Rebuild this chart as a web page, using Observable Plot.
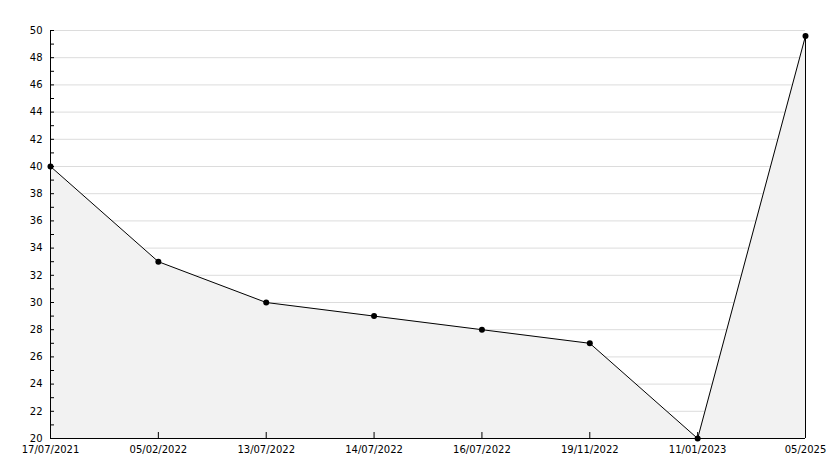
<!DOCTYPE html>
<html>
<head>
<meta charset="utf-8">
<script src="https://cdn.jsdelivr.net/npm/d3@7"></script>
<script src="https://cdn.jsdelivr.net/npm/@observablehq/plot@0.6"></script>
<style>
  html, body { margin: 0; padding: 0; background: #fff; }
  svg { display: block; }
</style>
</head>
<body>
<div id="chart"></div>
<script>
const dates = ["17/07/2021", "05/02/2022", "13/07/2022", "14/07/2022", "16/07/2022", "19/11/2022", "11/01/2023", "05/2025"];
const values = [40, 33, 30, 29, 28, 27, 20, 49.6];
const yMin = 20, yMax = 50;
const minorTicks = d3.range(yMin, yMax + 1, 1);
const gridTicks = d3.range(yMin + 2, yMax + 1, 2);

const data = dates.map((d, i) => ({date: d, value: values[i]}));
const last = data[data.length - 1];

const chart = Plot.plot({
  width: 834,
  height: 468,
  marginLeft: 50,
  marginRight: 29,
  marginTop: 30,
  marginBottom: 30,
  style: {fontFamily: "DejaVu Sans", fontSize: "10px", color: "#000", background: "#fff"},
  x: {type: "point", domain: dates, padding: 0, round: false, label: null},
  y: {domain: [yMin, yMax], label: null},
  marks: [
    Plot.gridY(gridTicks, {stroke: "#dcdcdc", strokeOpacity: 1}),
    Plot.areaY(data, {x: "date", y1: yMin, y2: "value", fill: "#f2f2f2"}),
    Plot.ruleX([last], {x: "date", y1: yMin, y2: "value", stroke: "#000"}),
    Plot.line(data, {x: "date", y: "value", stroke: "#000", strokeWidth: 1}),
    Plot.dot(data, {x: "date", y: "value", r: 3, fill: "#000", stroke: "none"}),
    Plot.axisY({ticks: minorTicks, tickSize: -4, tickPadding: 12, tickFormat: d => d % 2 === 0 ? String(d) : "", stroke: "#000"}),
    Plot.axisX({tickSize: -6, tickPadding: 13, stroke: "#000"}),
    Plot.ruleX([dates[0]], {stroke: "#000"}),
    Plot.ruleY([yMin], {stroke: "#000"})
  ]
});
document.getElementById("chart").appendChild(chart);
</script>
</body>
</html>
